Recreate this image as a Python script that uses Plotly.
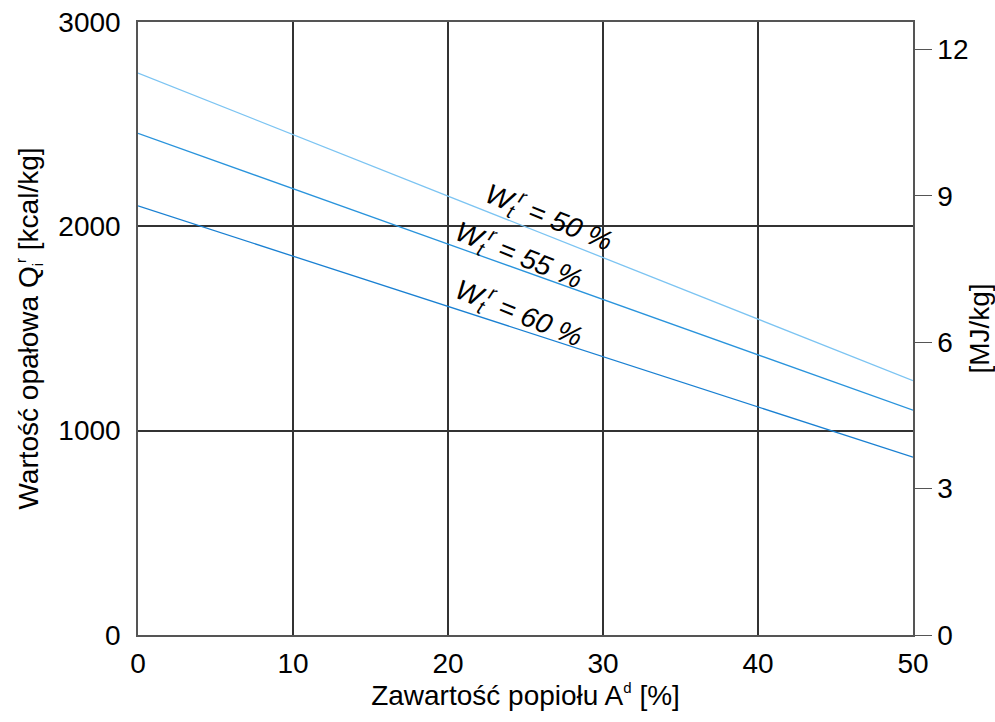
import plotly.graph_objects as go

ash = [0, 50]
q_w50 = [2750, 1245]
q_w55 = [2455, 1100]
q_w60 = [2100, 870]
labels = ["W<sub>t</sub><sup>r</sup> = 50 %", "W<sub>t</sub><sup>r</sup> = 55 %", "W<sub>t</sub><sup>r</sup> = 60 %"]
label_x = [26.5, 24.6, 24.6]
label_y = [2045, 1860, 1575]
colors = ["#7cc4f2", "#2a94dc", "#1a80d2"]
KCAL_TO_MJ = 4.1868 / 1000

fig = go.Figure()
for ys, c in zip([q_w50, q_w55, q_w60], colors):
    fig.add_trace(go.Scatter(x=ash, y=ys, mode="lines", line=dict(color=c, width=1.3), showlegend=False))

# dummy trace for right axis
fig.add_trace(go.Scatter(x=[0], y=[0], yaxis="y2", mode="markers", marker=dict(opacity=0), showlegend=False, hoverinfo="skip"))

FAM = "Liberation Sans, Arial, sans-serif"
for t, x, y in zip(labels, label_x, label_y):
    fig.add_annotation(x=x, y=y, text="<i>" + t + "</i>", showarrow=False, textangle=22,
                       font=dict(size=28, color="black", family=FAM))

small = "<span style='font-size:15px'>{}</span>"
fnt = dict(family=FAM, size=28, color="black")
fig.update_layout(
    width=995, height=722,
    margin=dict(l=138, r=82, t=22, b=87),
    plot_bgcolor="white", paper_bgcolor="white",
    font=fnt,
    xaxis=dict(range=[0, 50], tickvals=[0, 10, 20, 30, 40, 50], showgrid=True, gridcolor="#333333", gridwidth=1.5,
               showline=True, linecolor="#555555", linewidth=1.5, mirror=True, zeroline=False, ticks="",
               ticklabelstandoff=3, automargin=False,
               title=dict(text="Zawartość popiołu A<sup>" + small.format("d") + "</sup> [%]", font=fnt, standoff=4), tickfont=fnt),
    yaxis=dict(range=[0, 3000], tickvals=[0, 1000, 2000, 3000], showgrid=True, gridcolor="#333333", gridwidth=1.5,
               showline=True, linecolor="#555555", linewidth=1.5, mirror=True, zeroline=False, ticks="",
               ticklabelstandoff=10, automargin=False,
               title=dict(text="Wartość opałowa Q<sub>" + small.format("i") + "</sub><sup>" + small.format("r") + "</sup> [kcal/kg]",
                          font=fnt, standoff=12), tickfont=fnt),
    yaxis2=dict(range=[0, 3000 * KCAL_TO_MJ], tickvals=[0, 3, 6, 9, 12], overlaying="y", side="right",
                showgrid=False, zeroline=False, ticks="outside", ticklen=17, tickcolor="#555555",
                showline=True, linecolor="#555555", linewidth=1.5, automargin=False,
                title=dict(text="[MJ/kg]", font=fnt, standoff=6), tickfont=fnt),
)
fig.write_html("out.html", config={"displayModeBar": False},
               post_script="document.body.style.margin='0';document.body.style.overflow='hidden';")
